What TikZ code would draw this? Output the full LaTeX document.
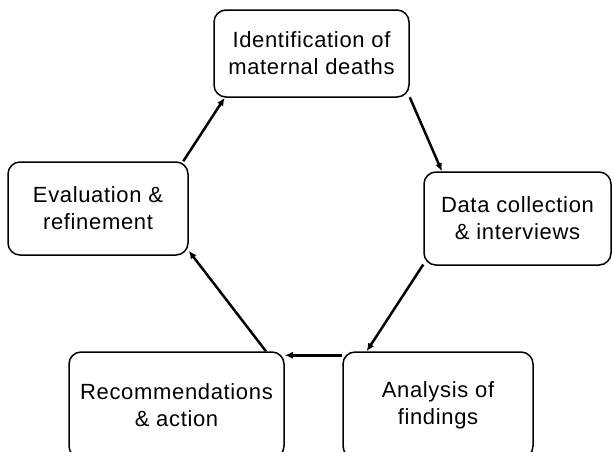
\documentclass[tikz,border=0pt]{standalone}
\usepackage{fontspec}
\setmainfont{Liberation Sans}[LetterSpace=3]
\usetikzlibrary{arrows.meta}
\begin{document}
\begin{tikzpicture}[x=1pt,y=-1pt,
  box/.style={draw=black, line width=1.5pt, rounded corners=12pt, align=center,
    inner sep=0pt, font=\fontsize{22}{27}\selectfont},
  arr/.style={line width=2.5pt, -{Latex[length=8pt,width=7pt]}}]
\useasboundingbox (0,0) rectangle (612,451);
\node[box, minimum width=195pt, minimum height=87pt] (top) at (311.5,53.5) {Identification of\\maternal deaths};
\node[box, minimum width=180pt, minimum height=93pt] (eval) at (98,208.5) {Evaluation \&\\refinement};
\node[box, minimum width=187pt, minimum height=93pt] (data) at (517.5,218.5) {Data collection\\\& interviews};
\node[box, minimum width=215pt, minimum height=106pt] (rec) at (176.5,405) {Recommendations\\\& action};
\node[box, minimum width=190pt, minimum height=106pt] (anal) at (438,405) {Analysis of\\findings};
\draw[arr] (eval.29) -- (top.207);
\draw[arr] (top.-24) -- (data.148);
\draw[arr] (data.206) -- (anal.143);
\draw[arr] ([yshift=-4pt]anal.north west) -- ([yshift=-4pt]rec.north east);
\draw[arr] (rec.31.5) -- (eval.-25);
\end{tikzpicture}
\end{document}
